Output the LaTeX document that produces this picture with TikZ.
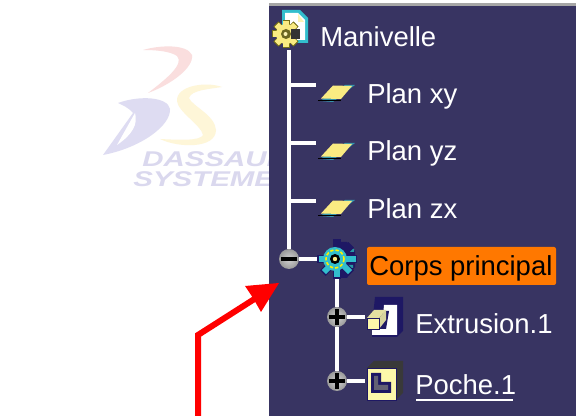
\documentclass[tikz,border=0pt]{standalone}
\usepackage{fontspec}
\setmainfont{Liberation Sans}
\definecolor{panel}{RGB}{56,52,98}
\definecolor{logored}{RGB}{250,222,222}
\definecolor{logoblue}{RGB}{222,220,242}
\definecolor{logoyellow}{RGB}{254,246,216}
\definecolor{logotext}{RGB}{218,216,238}
\definecolor{iconyellow}{RGB}{250,235,130}
\definecolor{paley}{RGB}{253,248,170}
\definecolor{darkind}{RGB}{30,24,100}
\definecolor{tealc}{RGB}{50,190,205}
\definecolor{orangeb}{RGB}{255,120,0}
\tikzset{
  treeline/.style={draw=white,line width=2.5pt},
  lab/.style={text=white,anchor=base west,inner sep=0pt,font=\fontsize{20.6pt}{24pt}\selectfont},
  logot/.style={text=logotext,anchor=base west,inner sep=0pt,font=\fontsize{16pt}{18pt}\selectfont\bfseries\itshape,xscale=1.38},
  knob/.style={circle,minimum size=15pt,inner sep=0pt,shade,inner color=gray!35,outer color=gray!80},
  redarrow/.style={draw=red,line width=4.5pt,line join=miter},
  planeicon/.pic={
    \fill[tealc!70!panel] (-17,8)--(-4,9)--(18,-8)--(8,-8)--cycle;
    \fill[iconyellow] (-16,5.5)--(4,6)--(15,-7)--(-4,-7.5)--cycle;
    \draw[black,line width=.7pt] (-19,7.5)--(4,7.5);
  },
}
\begin{document}
\begin{tikzpicture}[x=0.75pt,y=-0.75pt]
\useasboundingbox (0,0) rectangle (576,416);
\fill[white] (0,0) rectangle (576,416);
% logo
\fill[logored] (143,50) .. controls (160,45) and (187,44) .. (192,55)
  .. controls (194,68) and (170,85) .. (148,93)
  .. controls (165,80) and (185,64) .. (177,56)
  .. controls (170,51) and (155,50) .. (143,50) -- cycle;
\fill[logoblue] (118,103) .. controls (140,95) and (168,97) .. (170,109)
  .. controls (171,126) and (140,148) .. (103,155)
  -- (133,113)
  .. controls (128,107) and (122,105) .. (118,103) -- cycle;
\fill[white] (135,113) -- (117,145) .. controls (133,134) and (138,124) .. (135,113) -- cycle;
\fill[logoyellow] (222,87) .. controls (205,81) and (176,86) .. (177,101)
  .. controls (178,112) and (201,125) .. (203,135)
  .. controls (200,141) and (180,140) .. (160,139)
  .. controls (178,148) and (216,149) .. (216,130)
  .. controls (215,115) and (192,106) .. (189,98)
  .. controls (191,90) and (210,89) .. (222,87) -- cycle;
\node[logot] (dassault) at (142,167) {DASSAULT};
\node[logot] (systemes) at (133,187) {SYSTEMES};
% panel
\fill[panel] (269,4) rectangle (576,416);
\fill[gray!70] (269,3) rectangle (576,6);
% tree
\coordinate (rootline) at (289,50);
\coordinate (trunk1) at (289,85);
\coordinate (trunk2) at (289,143);
\coordinate (trunk3) at (289,201);
\coordinate (end1) at (316,85);
\coordinate (end2) at (316,143);
\coordinate (end3) at (316,201);
\coordinate (gearb) at (337,259);
\node[knob] (minus) at (289,259) {};
\node[knob] (plusa) at (337,317) {};
\node[knob] (plusb) at (337,381) {};
\coordinate (exl) at (365,317);
\coordinate (pol) at (365,381);
\draw[treeline] (rootline) -- (minus.north);
\draw[treeline] (trunk1) -- (end1);
\draw[treeline] (trunk2) -- (end2);
\draw[treeline] (trunk3) -- (end3);
\draw[treeline] (minus.east) -- (gearb);
\draw[treeline] (gearb) -- (plusa.north);
\draw[treeline] (plusa.south) -- (plusb.north);
\draw[treeline] (plusa.east) -- (exl);
\draw[treeline] (plusb.east) -- (pol);
% knob marks
\fill[black] (281,257) rectangle (297,261);
\fill[black] (329,315) rectangle (345,319.5);
\fill[black] (334.8,309) rectangle (339.2,325);
\fill[black] (329,379) rectangle (345,383.5);
\fill[black] (334.8,373) rectangle (339.2,389);
% root icon
\fill[tealc] (282,10) -- (300,10) -- (308,18) -- (308,43) -- (282,43) -- cycle;
\fill[white] (285,13) -- (298,13) -- (305,20) -- (305,40) -- (285,40) -- cycle;
\fill[iconyellow!60!white] (298,14) -- (304,22) -- (298,22) -- cycle;
\begin{scope}[shift={(286,34)}]
  \foreach \a in {0,45,...,315}{\fill[olive!80!black,rotate=\a] (-3.5,-14)rectangle(3.5,14);}
  \foreach \a in {0,45,...,315}{\fill[iconyellow,rotate=\a] (-2.7,-13)rectangle(2.7,13);}
  \fill[iconyellow] (0,0) circle (10);
  \fill[gray!40!black] (5,-5) rectangle (14,5);
  \fill[olive!70!black] (0,0) circle (5);
  \fill[iconyellow!60!white] (-0.5,0) circle (2);
\end{scope}
% plane icons
\pic (planea) at (337,93) {planeicon};
\pic (planeb) at (337,151) {planeicon};
\pic (planec) at (337,208) {planeicon};
% body gear
\begin{scope}[shift={(337,259)}]
  \fill[darkind] (2,-17) -- (10,-17) -- (18,-8) -- (18,8) -- (10,19) -- (2,19) -- cycle;
  \fill[tealc!80!black] (6,-10) rectangle (17,-7) (8,-2) rectangle (18,1) (6,6) rectangle (16,9);
  \foreach \a in {180,225,270,315,135,90,0}{\fill[darkind,rotate=\a] (-4,-20)rectangle(4,-10);}
  \foreach \a in {180,225,270,135,90}{\fill[tealc,rotate=\a] (-3,-18.5)rectangle(3,-9);}
  \fill[tealc] (-2,0) circle (12);
  \draw[yellow,line width=1.2pt,dash pattern=on 2.5pt off 1.5pt] (-2,0) circle (9);
  \fill[black] (-2,0) circle (5);
  \fill[iconyellow] (-2,0) circle (2.2);
\end{scope}
% extrusion icon
\fill[darkind] (375,297) -- (403,297) -- (403,331) -- (397,337) -- (372,337) -- (372,325) -- cycle;
\fill[white] (384,305) -- (397,305) -- (397,335) -- (372,335) -- (372,328) -- (382,328) -- cycle;
\fill[darkind] (385,311) -- (389,311) -- (386,329) -- (379,329) -- cycle;
\fill[paley!80!gray] (367,318) -- (374,310) -- (386,310) -- (379,318) -- cycle;
\fill[paley] (367,318) rectangle (379,329);
\fill[paley!70!gray] (379,318) -- (386,310) -- (386,320) -- (379,329) -- cycle;
\draw[darkind,line width=.6pt] (367,318) rectangle (379,329);
% pocket icon
\fill[gray!45!black] (367,368) -- (374,361) -- (403,361) -- (403,393) -- (396,400) -- cycle;
\fill[paley] (367,368) rectangle (396,400);
\draw[darkind,line width=.7pt] (367,368) rectangle (396,400);
\fill[darkind] (371,373) -- (381,373) -- (381,382) -- (391,382) -- (391,393) -- (371,393) -- cycle;
\fill[gray!60!panel] (374,376) -- (378,376) -- (378,385) -- (388,385) -- (388,390) -- (374,390) -- cycle;
% labels
\node[lab] (manivelle) at (320,46.5) {Manivelle};
\node[lab] (planxy) at (367,103.5) {Plan xy};
\node[lab] (planyz) at (367,161) {Plan yz};
\node[lab] (planzx) at (367,219) {Plan zx};
\fill[orangeb,rounded corners=1.5pt] (367,247) rectangle (556,285);
\node[lab,text=black] (corps) at (369,276) {Corps principal};
\node[lab] (extrusion) at (415,334) {Extrusion.1};
\node[lab] (poche) at (415,395) {Poche.1};
\draw[white,line width=1.6pt] (poche.base west) ++(1,5) -- ++(97,0);
% red arrow
\coordinate (arrowstart) at (198,416);
\coordinate (arrowbend) at (198,335);
\coordinate (arrowneck) at (256,298);
\coordinate (arrowtip) at (279,283);
\draw[redarrow] (arrowstart) -- (arrowbend) -- (arrowneck);
\fill[red] (arrowtip) -- (245,286) -- (253,298) -- (261,312) -- cycle;
\end{tikzpicture}
\end{document}
